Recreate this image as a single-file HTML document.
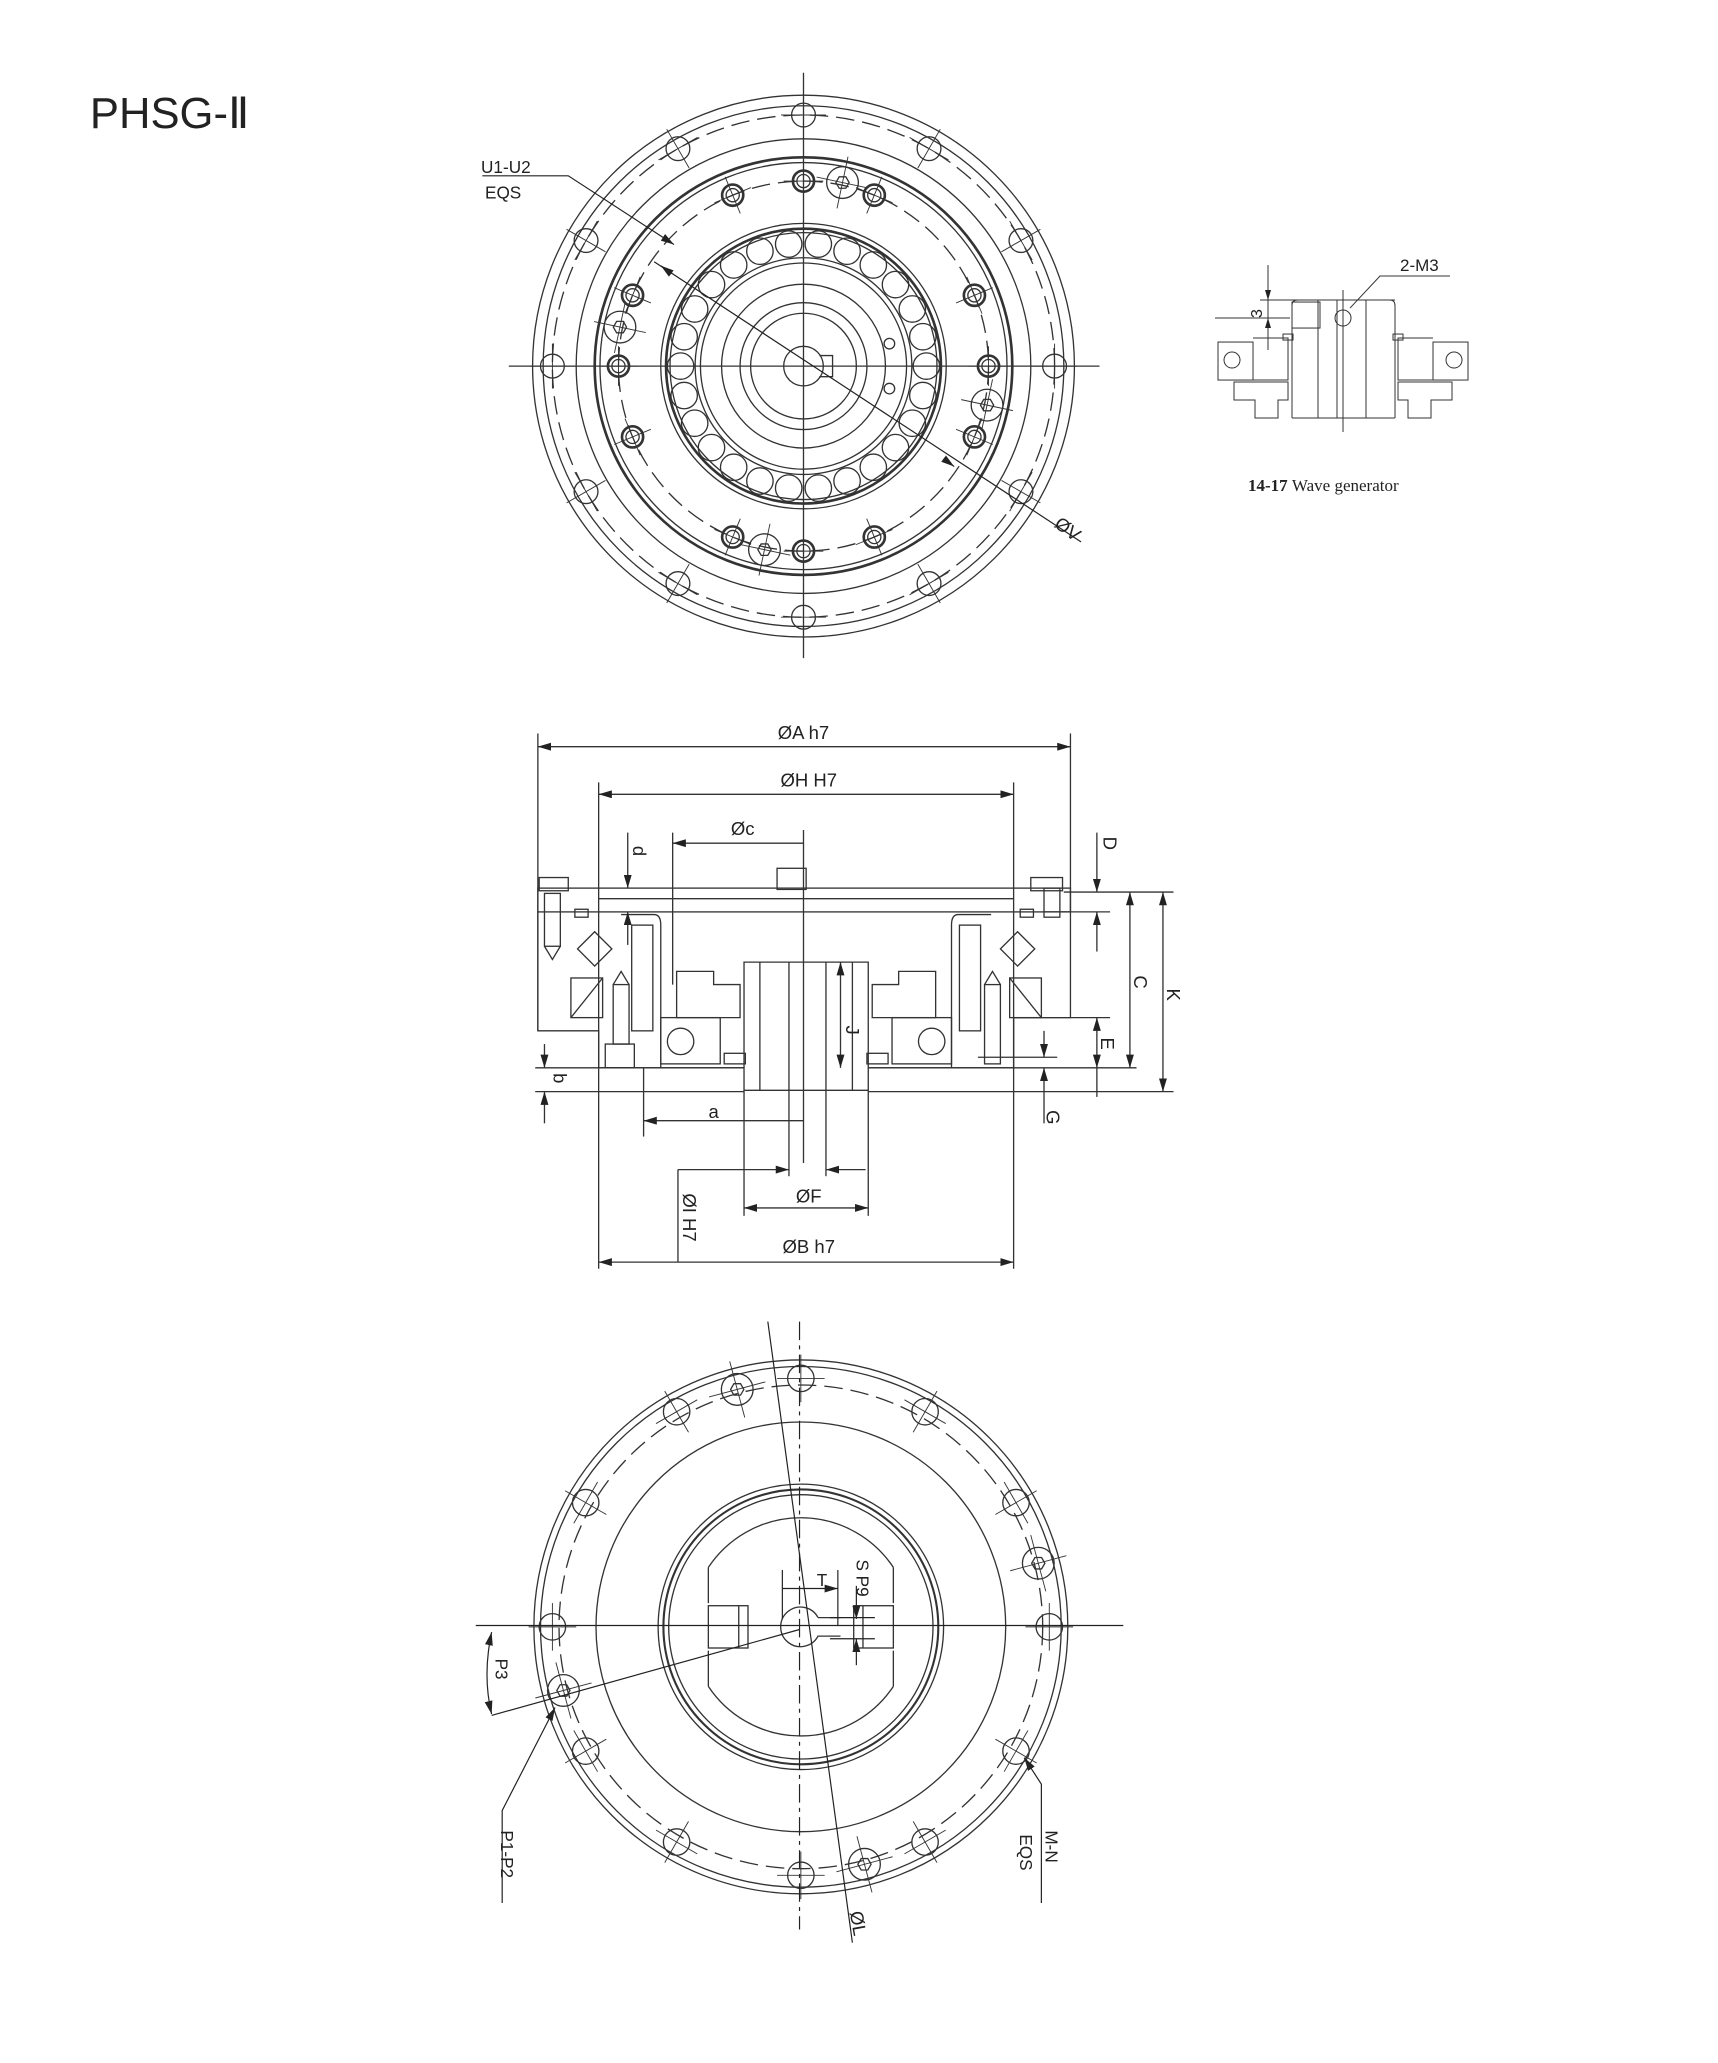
<!DOCTYPE html>
<html><head><meta charset="utf-8"><style>
html,body{margin:0;padding:0;background:#fff;}
svg{display:block;}
text{font-family:"Liberation Sans",sans-serif;fill:#222;}
</style></head><body>
<svg id="s" xmlns="http://www.w3.org/2000/svg" width="1718" height="2063" viewBox="0 0 1300 1561">
<defs>
<marker id="ar" viewBox="0 0 10 6" refX="10" refY="3" markerWidth="10" markerHeight="6" orient="auto-start-reverse" markerUnits="userSpaceOnUse"><path d="M0,0 L10,3 L0,6 z" fill="#222"/></marker>
</defs>
<g fill="none" stroke="#333" stroke-width="1">
<g id="top"></g>
<g id="bot"></g>
<!-- side view -->
<g id="side">
<!-- dimension extension lines -->
<line x1="407" y1="555" x2="407" y2="780"/>
<line x1="810" y1="555" x2="810" y2="690"/>
<line x1="453" y1="592" x2="453" y2="960"/>
<line x1="767" y1="592" x2="767" y2="960"/>
<line x1="509" y1="630" x2="509" y2="745"/>
<line x1="608" y1="628" x2="608" y2="880"/>
<line x1="407" y1="565" x2="810" y2="565" marker-start="url(#ar)" marker-end="url(#ar)"/>
<line x1="453" y1="601" x2="767" y2="601" marker-start="url(#ar)" marker-end="url(#ar)"/>
<line x1="509" y1="638" x2="608" y2="638" marker-start="url(#ar)"/>
<!-- body -->
<rect x="407" y="672" width="403" height="18"/>
<line x1="453" y1="680" x2="767" y2="680"/>
<rect x="408" y="664" width="22" height="10"/>
<rect x="780" y="664" width="24" height="10"/>
<rect x="588" y="657" width="22" height="16"/>
<path d="M407,690 V780 H453 V808 H563"/>
<path d="M810,690 V770 H767 V808 H657"/>
<path d="M563,728 V825 H657 V728 Z"/>
<line x1="575" y1="728" x2="575" y2="825"/><line x1="645" y1="728" x2="645" y2="825"/>
<line x1="597" y1="728" x2="597" y2="825"/><line x1="625" y1="728" x2="625" y2="825"/>
<!-- inner housings -->
<path d="M470,692 H495 Q500,692 500,700 V808"/>
<path d="M750,692 H725 Q720,692 720,700 V808"/>
<rect x="478" y="700" width="16" height="80"/>
<rect x="726" y="700" width="16" height="80"/>
<rect x="500" y="770" width="45" height="35"/><circle cx="515" cy="788" r="10"/>
<rect x="675" y="770" width="45" height="35"/><circle cx="705" cy="788" r="10"/>
<path d="M512,735 H540 V745 H560 V770 H512 Z"/>
<path d="M708,735 H680 V745 H660 V770 H708 Z"/>
<rect x="548" y="797" width="16" height="8"/><rect x="656" y="797" width="16" height="8"/>
<!-- cross roller bearing diamonds -->
<path d="M450,705 L463,718 L450,731 L437,718 Z"/>
<path d="M770,705 L783,718 L770,731 L757,718 Z"/>
<rect x="432" y="740" width="24" height="30"/><line x1="432" y1="770" x2="456" y2="740"/>
<rect x="764" y="740" width="24" height="30"/><line x1="788" y1="770" x2="764" y2="740"/>
<!-- screws -->
<rect x="412" y="676" width="12" height="40"/><path d="M412,716 L418,726 L424,716"/>
<rect x="464" y="745" width="12" height="45"/><path d="M464,745 L470,735 L476,745"/>
<rect x="458" y="790" width="22" height="18"/>
<rect x="745" y="745" width="12" height="60"/><path d="M745,745 L751,735 L757,745"/>
<rect x="790" y="672" width="12" height="22"/>
<rect x="435" y="688" width="10" height="6"/><rect x="772" y="688" width="10" height="6"/>
<!-- right dims -->
<line x1="805" y1="675" x2="888" y2="675"/>
<line x1="790" y1="690" x2="840" y2="690"/>
<line x1="767" y1="770" x2="840" y2="770"/>
<line x1="657" y1="808" x2="860" y2="808"/>
<line x1="657" y1="826" x2="888" y2="826"/>
<line x1="740" y1="800" x2="800" y2="800"/>
<line x1="830" y1="630" x2="830" y2="675" marker-end="url(#ar)"/>
<line x1="830" y1="690" x2="830" y2="720" marker-start="url(#ar)"/>
<line x1="855" y1="675" x2="855" y2="808" marker-start="url(#ar)" marker-end="url(#ar)"/>
<line x1="880" y1="675" x2="880" y2="826" marker-start="url(#ar)" marker-end="url(#ar)"/>
<line x1="830" y1="770" x2="830" y2="808" marker-start="url(#ar)" marker-end="url(#ar)"/>
<line x1="830" y1="808" x2="830" y2="830"/>
<line x1="790" y1="780" x2="790" y2="800" marker-end="url(#ar)"/>
<line x1="790" y1="808" x2="790" y2="850" marker-start="url(#ar)"/>
<line x1="636" y1="728" x2="636" y2="808" marker-start="url(#ar)" marker-end="url(#ar)"/>
<!-- d -->
<line x1="475" y1="630" x2="475" y2="672" marker-end="url(#ar)"/>
<line x1="475" y1="690" x2="475" y2="715" marker-start="url(#ar)"/>
<!-- b -->
<line x1="412" y1="790" x2="412" y2="808" marker-end="url(#ar)"/>
<line x1="412" y1="826" x2="412" y2="850" marker-start="url(#ar)"/>
<line x1="405" y1="808" x2="563" y2="808"/>
<line x1="405" y1="826" x2="563" y2="826"/>
<line x1="487" y1="808" x2="487" y2="860"/>
<line x1="487" y1="848" x2="608" y2="848" marker-start="url(#ar)"/>
<!-- F / I / B -->
<line x1="563" y1="825" x2="563" y2="920"/><line x1="657" y1="825" x2="657" y2="920"/>
<line x1="597" y1="825" x2="597" y2="890"/><line x1="625" y1="825" x2="625" y2="890"/>
<line x1="513" y1="885" x2="597" y2="885" marker-end="url(#ar)"/>
<line x1="625" y1="885" x2="655" y2="885" marker-start="url(#ar)"/>
<line x1="513" y1="885" x2="513" y2="955"/>
<line x1="563" y1="914" x2="657" y2="914" marker-start="url(#ar)" marker-end="url(#ar)"/>
<line x1="453" y1="955" x2="767" y2="955" marker-start="url(#ar)" marker-end="url(#ar)"/>
</g>
<!-- wave generator (original coords) -->
<g transform="scale(0.7567)">
<line x1="1268" y1="265" x2="1268" y2="350"/>
<line x1="1268" y1="285" x2="1268" y2="300" marker-end="url(#ar)"/>
<line x1="1268" y1="330" x2="1268" y2="318" marker-end="url(#ar)"/>
<line x1="1215" y1="318" x2="1290" y2="318"/>
<line x1="1260" y1="300" x2="1395" y2="300"/>
<path d="M1292,418 V305 Q1292,300 1298,300 H1318 V418"/>
<rect x="1292" y="302" width="28" height="26"/>
<path d="M1366,418 V300 H1390 Q1395,300 1395,306 V418"/>
<circle cx="1343" cy="318" r="8"/>
<line x1="1343" y1="290" x2="1343" y2="432"/>
<line x1="1337" y1="300" x2="1337" y2="418"/>
<line x1="1292" y1="418" x2="1395" y2="418"/>
<rect x="1218" y="342" width="35" height="38"/><circle cx="1232" cy="360" r="8"/>
<rect x="1433" y="342" width="35" height="38"/><circle cx="1454" cy="360" r="8"/>
<path d="M1253,338 H1288 V380 H1253"/>
<path d="M1433,338 H1398 V380 H1433"/>
<path d="M1234,382 H1288 V400 H1278 V418 H1255 V400 H1234 Z"/>
<path d="M1452,382 H1398 V400 H1408 V418 H1431 V400 H1452 Z"/>
<rect x="1283" y="334" width="10" height="6"/><rect x="1393" y="334" width="10" height="6"/>
<path d="M1350,308 L1380,276 H1450"/>
</g>
</g>
<g stroke="#222" fill="none" stroke-width="0.9">
<!-- leaders top view -->
<path d="M365,133 H430 L510,185" marker-end="url(#ar)"/>
<line x1="495" y1="198" x2="818" y2="410"/>
<line x1="500" y1="201" x2="508" y2="207" marker-start="url(#ar)"/>
<line x1="722" y1="353" x2="714" y2="347" marker-start="url(#ar)"/>
<!-- bottom view leaders -->
<line x1="581" y1="1000" x2="645" y2="1470"/>
<line x1="360" y1="1230" x2="850" y2="1230"/>
<line x1="605" y1="1000" x2="605" y2="1460" stroke-dasharray="14 4 3 4"/>
<line x1="372" y1="1298" x2="605" y2="1233"/>
<path d="M372,1235 Q365,1268 372,1297" marker-start="url(#ar)" marker-end="url(#ar)"/>
<path d="M380,1440 V1370 L420,1292" marker-end="url(#ar)"/>
<path d="M788,1440 V1350 L775,1330" marker-end="url(#ar)"/>
<line x1="592" y1="1188" x2="592" y2="1225"/>
<line x1="634" y1="1188" x2="634" y2="1230"/>
<line x1="592" y1="1202" x2="634" y2="1202" marker-end="url(#ar)"/>
<line x1="648" y1="1200" x2="648" y2="1225" marker-end="url(#ar)"/>
<line x1="648" y1="1260" x2="648" y2="1240" marker-end="url(#ar)"/>
<line x1="628" y1="1224" x2="662" y2="1224"/><line x1="628" y1="1240" x2="662" y2="1240"/>
</g>
<text x="68" y="97" font-size="33" fill="#222">PHSG-Ⅱ</text>
<text x="364" y="131" font-size="13">U1-U2</text>
<text x="367" y="150" font-size="13">EQS</text>
<text transform="translate(797,398) rotate(37)" font-size="14">ØV</text>
<g transform="scale(0.7567)">
<text x="1400" y="271" font-size="17">2-M3</text>
<text transform="translate(1262,318) rotate(-90)" font-size="16">3</text>
<text x="1248" y="491" font-size="17" style="font-family:'Liberation Serif',serif;font-weight:bold">14-17 <tspan font-weight="normal">Wave generator</tspan></text>
</g>
<text x="608" y="559" font-size="14" text-anchor="middle">ØA h7</text>
<text x="612" y="595" font-size="14" text-anchor="middle">ØH H7</text>
<text x="562" y="632" font-size="14" text-anchor="middle">Øc</text>
<text transform="translate(479,640) rotate(90)" font-size="14">d</text>
<text transform="translate(835,633) rotate(90)" font-size="14">D</text>
<text transform="translate(858,738) rotate(90)" font-size="14">C</text>
<text transform="translate(883,748) rotate(90)" font-size="14">K</text>
<text transform="translate(833,785) rotate(90)" font-size="14">E</text>
<text transform="translate(792,840) rotate(90)" font-size="14">G</text>
<text transform="translate(640,776) rotate(90)" font-size="14">J</text>
<text transform="translate(419,812) rotate(90)" font-size="14">b</text>
<text x="540" y="846" font-size="14" text-anchor="middle">a</text>
<text x="612" y="910" font-size="14" text-anchor="middle">ØF</text>
<text transform="translate(517,903) rotate(90)" font-size="14">ØI H7</text>
<text x="612" y="948" font-size="14" text-anchor="middle">ØB h7</text>
<text x="618" y="1200" font-size="13">T</text>
<text transform="translate(648,1180) rotate(90)" font-size="13">S P9</text>
<text transform="translate(375,1255) rotate(90)" font-size="13">P3</text>
<text transform="translate(379,1385) rotate(90)" font-size="13">P1-P2</text>
<text transform="translate(791,1385) rotate(90)" font-size="13">M-N</text>
<text transform="translate(772,1388) rotate(90)" font-size="13">EQS</text>
<text transform="translate(643,1447) rotate(80)" font-size="14">ØL</text>
</svg>
<script>
var NS="http://www.w3.org/2000/svg";
function el(p,t,a){var e=document.createElementNS(NS,t);for(var k in a)e.setAttribute(k,a[k]);p.appendChild(e);return e;}
function hole(g,cx,cy,r,ang,len,hex,thick){
 el(g,"circle",{cx:cx,cy:cy,r:r,"stroke-width":thick?2:1});
 if(thick)el(g,"circle",{cx:cx,cy:cy,r:r-3});
 var a=ang*Math.PI/180,c=Math.cos(a),s=Math.sin(a);
 el(g,"line",{x1:cx-c*len,y1:cy-s*len,x2:cx+c*len,y2:cy+s*len,"stroke-width":0.7});
 el(g,"line",{x1:cx+s*len,y1:cy-c*len,x2:cx-s*len,y2:cy+c*len,"stroke-width":0.7});
 if(hex){var pts=[];for(var i=0;i<6;i++){var b=i*Math.PI/3;pts.push((cx+5*Math.cos(b))+","+(cy+5*Math.sin(b)));}el(g,"polygon",{points:pts.join(" ")});}
}
// top view
var T=document.getElementById("top"),cx=608,cy=277;
[205,197,172,158,154,108,104,101,82,78,62,48,40].forEach(function(r,i){el(T,"circle",{cx:cx,cy:cy,r:r,"stroke-width":(r==158||r==104)?2:1});});
el(T,"circle",{cx:cx,cy:cy,r:190,"stroke-dasharray":"14 6"});
el(T,"circle",{cx:cx,cy:cy,r:140,"stroke-dasharray":"14 6"});
el(T,"line",{x1:cx,y1:55,x2:cx,y2:498});el(T,"line",{x1:385,y1:cy,x2:832,y2:cy});
for(var i=0;i<12;i++){var a=i*30*Math.PI/180;hole(T,cx+190*Math.sin(a),cy-190*Math.cos(a),9,i*30,17);}
for(var i=0;i<16;i++){if(i%4==2)continue;var a=i*22.5*Math.PI/180;hole(T,cx+140*Math.sin(a),cy-140*Math.cos(a),8,i*22.5,15,false,true);}
[12,282,102,192].forEach(function(d){var a=d*Math.PI/180;hole(T,cx+142*Math.sin(a),cy-142*Math.cos(a),12,d,20,true);});
for(var i=0;i<26;i++){var a=i*360/26*Math.PI/180;el(T,"circle",{cx:cx+93*Math.cos(a),cy:cy+93*Math.sin(a),r:10});}
el(T,"circle",{cx:cx,cy:cy,r:15});
el(T,"path",{d:"M"+(cx+12)+","+(cy-8)+" h10 v16 h-10"});
el(T,"circle",{cx:cx+65,cy:cy-17,r:4});el(T,"circle",{cx:cx+65,cy:cy+17,r:4});
// bottom view
var B=document.getElementById("bot");cx=606;cy=1231;
[202,197,155,108,104,100].forEach(function(r){el(B,"circle",{cx:cx,cy:cy,r:r,"stroke-width":r==104?1.6:1});});
el(B,"circle",{cx:cx,cy:cy,r:183,"stroke-dasharray":"14 6"});
el(B,"path",{d:"M"+(cx-70)+","+(cy-45)+" A84,84 0 0 1 "+(cx+70)+","+(cy-45)+" M"+(cx+70)+","+(cy+45)+" A84,84 0 0 1 "+(cx-70)+","+(cy+45)});
el(B,"path",{d:"M"+(cx-70)+","+(cy-45)+" V"+(cy-18)+" M"+(cx-70)+","+(cy+18)+" V"+(cy+45)+" M"+(cx+70)+","+(cy-45)+" V"+(cy-18)+" M"+(cx+70)+","+(cy+18)+" V"+(cy+45)});
el(B,"rect",{x:cx-70,y:cy-16,width:30,height:32});el(B,"line",{x1:cx-47,y1:cy-16,x2:cx-47,y2:cy+16});
el(B,"rect",{x:cx+40,y:cy-16,width:30,height:32});el(B,"line",{x1:cx+47,y1:cy-16,x2:cx+47,y2:cy+16});
el(B,"path",{d:"M"+(cx+13)+","+(cy-7)+" A15,15 0 1 0 "+(cx+13)+","+(cy+7)+" H"+(cx+30)+" M"+(cx+13)+","+(cy-7)+" H"+(cx+30)});
for(var i=0;i<12;i++){var a=i*30*Math.PI/180;hole(B,cx+188*Math.sin(a),cy-188*Math.cos(a),10,i*30,18);}
[-15,75,165,255].forEach(function(d){var a=d*Math.PI/180;hole(B,cx+186*Math.sin(a),cy-186*Math.cos(a),12,d,22,true);});
</script>
</body></html>
